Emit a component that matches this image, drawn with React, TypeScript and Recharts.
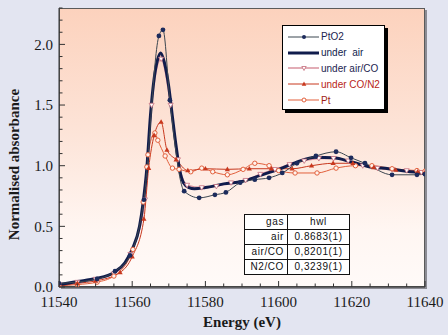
import React from "react";
import { LineChart, Line, XAxis, YAxis, Label } from "recharts";

// energies (eV) and normalised absorbance
const pto2E = [11540, 11550.4, 11555.3, 11559.4, 11563.2, 11567.3, 11568.4, 11570.3, 11574.2, 11578.3, 11582.6, 11585.6, 11589.5, 11593.5, 11597.4, 11601, 11605, 11610.2, 11615.7, 11619.8, 11623.6, 11631, 11637.8, 11640];
const pto2V = [0.03, 0.066, 0.13, 0.26, 0.72, 2.07, 2.12, 1.54, 0.79, 0.735, 0.76, 0.78, 0.86, 0.885, 0.9, 0.94, 1.02, 1.08, 1.115, 1.065, 1.02, 0.925, 0.925, 0.93];

const airE = [11540, 11545, 11550, 11555, 11558, 11560, 11562, 11563, 11564, 11565, 11566, 11567, 11567.8, 11568.8, 11570, 11571, 11572, 11573, 11574, 11575.5, 11577, 11580, 11585, 11590, 11595, 11600, 11605, 11610, 11615, 11620, 11625, 11630, 11635, 11640];
const airV = [0.02, 0.045, 0.07, 0.12, 0.2, 0.31, 0.5, 0.7, 0.98, 1.42, 1.72, 1.88, 1.93, 1.85, 1.65, 1.4, 1.16, 0.96, 0.86, 0.82, 0.81, 0.82, 0.85, 0.87, 0.92, 0.97, 1.03, 1.07, 1.065, 1.03, 0.99, 0.975, 0.955, 0.94];

const airCoE = [11540, 11545, 11550, 11555, 11559.5, 11563.5, 11565.3, 11567.9, 11570.5, 11572.5, 11575, 11579, 11583, 11587, 11591, 11595, 11599, 11603, 11607, 11611, 11615, 11619, 11623, 11627, 11631, 11635, 11639];
const airCoV = [0.02, 0.04, 0.065, 0.11, 0.27, 0.72, 1.5, 1.88, 1.5, 1.05, 0.84, 0.82, 0.83, 0.86, 0.88, 0.93, 0.97, 1.01, 1.04, 1.06, 1.06, 1.04, 1.0, 0.98, 0.97, 0.96, 0.945];

const coN2E = [11540, 11545, 11550, 11556.7, 11560, 11563.2, 11564.5, 11566, 11567.9, 11569.5, 11572, 11575.2, 11580, 11586, 11592, 11598, 11603.7, 11609, 11614.9, 11620.3, 11626, 11632, 11638, 11640];
const coN2V = [0.01, 0.03, 0.05, 0.12, 0.25, 0.56, 0.98, 1.25, 1.36, 1.13, 1.05, 0.96, 0.975, 0.97, 0.975, 0.975, 0.975, 1.0, 1.02, 1.02, 0.985, 0.965, 0.95, 0.945];

const ptE = [11540, 11545, 11550.4, 11555, 11560.2, 11563, 11564, 11564.3, 11566.2, 11567, 11569, 11571, 11572.8, 11576, 11579, 11582, 11586, 11590.3, 11593.5, 11597.4, 11600, 11604.5, 11610.5, 11615.7, 11621, 11625.5, 11631, 11637.8, 11640];
const ptV = [0.01, 0.02, 0.04, 0.09, 0.31, 0.7, 0.99, 1.09, 1.27, 1.21, 1.08, 0.98, 0.97, 0.95, 0.98, 0.95, 0.925, 0.97, 1.02, 1.0, 0.96, 0.94, 0.94, 0.98, 1.0, 1.0, 0.975, 0.96, 0.955];

const xTicks = [11540, 11545, 11550, 11555, 11560, 11565, 11570, 11575, 11580, 11585, 11590, 11595, 11600, 11605, 11610, 11615, 11620, 11625, 11630, 11635, 11640];
const yTicks = [0, 0.1, 0.2, 0.3, 0.4, 0.5, 0.6, 0.7, 0.8, 0.9, 1.0, 1.1, 1.2, 1.3, 1.4, 1.5, 1.6, 1.7, 1.8, 1.9, 2.0, 2.1, 2.2, 2.3];

const gasRows = ["air", "air/CO", "N2/CO"];
const hwlRows = ["0.8683(1)", "0,8201(1)", "0,3239(1)"];

const toPoints = (e: number[], v: number[]) => e.map((x, i) => ({ e: x, v: v[i] }));

const C = {
  pto2: "#3b4650",
  pto2Dot: "#1c2b5c",
  air: "#101c4c",
  airCo: "#d8929e",
  airCoDot: "#c46a7a",
  coN2: "#c8381e",
  pt: "#e2603c",
};

const serif = "'Liberation Serif', 'DejaVu Serif', serif";
const sans = "'Liberation Sans', Arial, sans-serif";

const DotCircle = (p: any) => (
  <circle key={p.index} cx={p.cx} cy={p.cy} r={2.4} fill={C.pto2Dot} />
);
const DotOpen = (p: any) => (
  <circle key={p.index} cx={p.cx} cy={p.cy} r={2.2} fill="#fff4ee" stroke={C.pt} strokeWidth={1} />
);
const DotUp = (p: any) => (
  <path key={p.index} d={`M${p.cx},${p.cy - 2.8}L${p.cx + 2.6},${p.cy + 1.8}L${p.cx - 2.6},${p.cy + 1.8}Z`} fill={C.coN2} />
);
const DotDown = (p: any) => (
  <path key={p.index} d={`M${p.cx},${p.cy + 2.6}L${p.cx + 2.5},${p.cy - 1.8}L${p.cx - 2.5},${p.cy - 1.8}Z`} fill="#fff" stroke={C.airCoDot} strokeWidth={0.8} />
);

const XTick = (props: any) => {
  const { x, y, payload } = props;
  const major = payload.value % 20 === 0;
  return (
    <g>
      <line x1={x} x2={x} y1={y - 9} y2={y - 9 - (major ? 6 : 3.5)} stroke="#333" strokeWidth={1} />
      {major && (
        <text x={x} y={y} dy="0.71em" textAnchor="middle" fontFamily={serif} fontSize={15} fill="#1a1a1a">
          {payload.value}
        </text>
      )}
    </g>
  );
};

const YTick = (props: any) => {
  const { x, y, payload } = props;
  const major = Math.round(payload.value * 10) % 5 === 0;
  return (
    <g>
      <line x1={x + 6} x2={x + 6 + (major ? 6 : 3.5)} y1={y} y2={y} stroke="#333" strokeWidth={1} />
      {major && (
        <text x={x} y={y} dy="0.36em" textAnchor="end" fontFamily={serif} fontSize={15} fill="#1a1a1a">
          {payload.value.toFixed(1)}
        </text>
      )}
    </g>
  );
};

const legendItems = [
  { name: "PtO2", color: C.pto2, width: 1, text: "#1c2450", mark: "dot" },
  { name: "under  air", color: C.air, width: 3, text: "#101c4c", mark: "" },
  { name: "under air/CO", color: C.airCo, width: 1.5, text: "#1c2450", mark: "down" },
  { name: "under CO/N2", color: C.coN2, width: 1, text: "#b82418", mark: "up" },
  { name: "Pt", color: C.pt, width: 1, text: "#a01c14", mark: "open" },
];

const LegendBox = () => (
  <div
    style={{
      position: "absolute",
      left: 282,
      top: 25,
      width: 103,
      height: 85,
      background: "#fff",
      border: "1.5px solid #000",
      boxShadow: "3px 3px 0 #000",
      padding: "3px 0 0 4px",
      boxSizing: "border-box",
    }}
  >
    {legendItems.map((it) => (
      <div key={it.name} style={{ display: "flex", alignItems: "center", height: 15.8 }}>
        <svg width={33} height={10} style={{ flex: "none" }}>
          <line x1={1} x2={32} y1={5} y2={5} stroke={it.color} strokeWidth={it.width} />
          {it.mark === "dot" && <circle cx={17} cy={5} r={2} fill={C.pto2Dot} />}
          {it.mark === "down" && <path d="M17,7.5L19.2,3.5L14.8,3.5Z" fill="#fff" stroke={C.airCoDot} strokeWidth={0.8} />}
          {it.mark === "up" && <path d="M17,2.5L19.3,6.8L14.7,6.8Z" fill={C.coN2} />}
          {it.mark === "open" && <circle cx={17} cy={5} r={2} fill="#fff" stroke={C.pt} strokeWidth={1} />}
        </svg>
        <span style={{ fontFamily: sans, fontSize: 10, color: it.text, marginLeft: 1, whiteSpace: "pre" }}>
          {it.name}
        </span>
      </div>
    ))}
  </div>
);

const cell: React.CSSProperties = {
  border: "1.5px solid #111",
  height: 14,
  padding: "0 3px",
  fontFamily: sans,
  fontSize: 10,
  letterSpacing: 0.6,
  color: "#111",
  lineHeight: "14px",
};

export default function App() {
  return (
    <div style={{ position: "absolute", left: 0, top: 0, width: 448, height: 335, background: "#e3e5f1", overflow: "hidden" }}>
      <style>{`body{margin:0}`}</style>
      <div
        style={{
          position: "absolute",
          left: 59,
          top: 8,
          width: 366,
          height: 279,
          background: "linear-gradient(to bottom, #fcd2bd 0%, #fde4d8 45%, #fff6f2 80%, #fffaf8 100%)",
          border: "1px solid #5a5a5a",
          boxSizing: "border-box",
          boxShadow: "2px 2px 0 #8c8c94",
        }}
      />
      <div style={{ position: "absolute", left: 0, top: 0 }}>
        <LineChart width={448} height={335} margin={{ top: 8, right: 23, bottom: 0, left: 0 }}>
          <XAxis
            dataKey="e"
            type="number"
            domain={[11540, 11640]}
            ticks={xTicks}
            interval={0}
            allowDataOverflow
            height={48}
            tickSize={0}
            tickMargin={9}
            tick={<XTick />}
            axisLine={{ stroke: "#333" }}
          >
            <Label
              value="Energy (eV)"
              position="insideBottom"
              offset={8}
              style={{ fontFamily: serif, fontSize: 15, fontWeight: "bold", fill: "#1a1a1a" }}
            />
          </XAxis>
          <YAxis
            dataKey="v"
            type="number"
            domain={[0, 2.3]}
            ticks={yTicks}
            interval={0}
            allowDataOverflow
            width={59}
            tickSize={0}
            tickMargin={6}
            tick={<YTick />}
            axisLine={{ stroke: "#333" }}
          >
            <Label
              content={(p: any) => {
                const vb = p.viewBox || { x: 0, y: 0, height: 0 };
                const cx = vb.x + 14;
                const cy = vb.y + vb.height / 2 + 17;
                return (
                  <text
                    x={cx}
                    y={cy}
                    transform={`rotate(-90 ${cx} ${cy})`}
                    textAnchor="middle"
                    dominantBaseline="central"
                    fontFamily={serif}
                    fontSize={15}
                    fontWeight="bold"
                    fill="#1a1a1a"
                  >
                    Normalised absorbance
                  </text>
                );
              }}
            />
          </YAxis>
          <Line data={toPoints(airCoE, airCoV)} dataKey="v" type="monotone" stroke={C.airCo} strokeWidth={1.5} dot={DotDown} activeDot={false} isAnimationActive={false} />
          <Line data={toPoints(ptE, ptV)} dataKey="v" type="monotone" stroke={C.pt} strokeWidth={1} dot={DotOpen} activeDot={false} isAnimationActive={false} />
          <Line data={toPoints(coN2E, coN2V)} dataKey="v" type="monotone" stroke={C.coN2} strokeWidth={1} dot={DotUp} activeDot={false} isAnimationActive={false} />
          <Line data={toPoints(airE, airV)} dataKey="v" type="monotone" stroke={C.air} strokeWidth={3} dot={false} activeDot={false} isAnimationActive={false} />
          <Line data={toPoints(pto2E, pto2V)} dataKey="v" type="monotone" stroke={C.pto2} strokeWidth={1} dot={DotCircle} activeDot={false} isAnimationActive={false} />
        </LineChart>
      </div>
      <LegendBox />
      <table
        style={{
          position: "absolute",
          left: 244,
          top: 214,
          width: 106,
          borderCollapse: "collapse",
          background: "#fff",
        }}
      >
        <tbody>
          <tr>
            <td style={{ ...cell, width: 36, textAlign: "right" }}>gas</td>
            <td style={{ ...cell, textAlign: "center" }}>hwl</td>
          </tr>
          {gasRows.map((g, i) => (
            <tr key={g}>
              <td style={{ ...cell, textAlign: "right" }}>{g}</td>
              <td style={{ ...cell, textAlign: "center" }}>{hwlRows[i]}</td>
            </tr>
          ))}
        </tbody>
      </table>
    </div>
  );
}
